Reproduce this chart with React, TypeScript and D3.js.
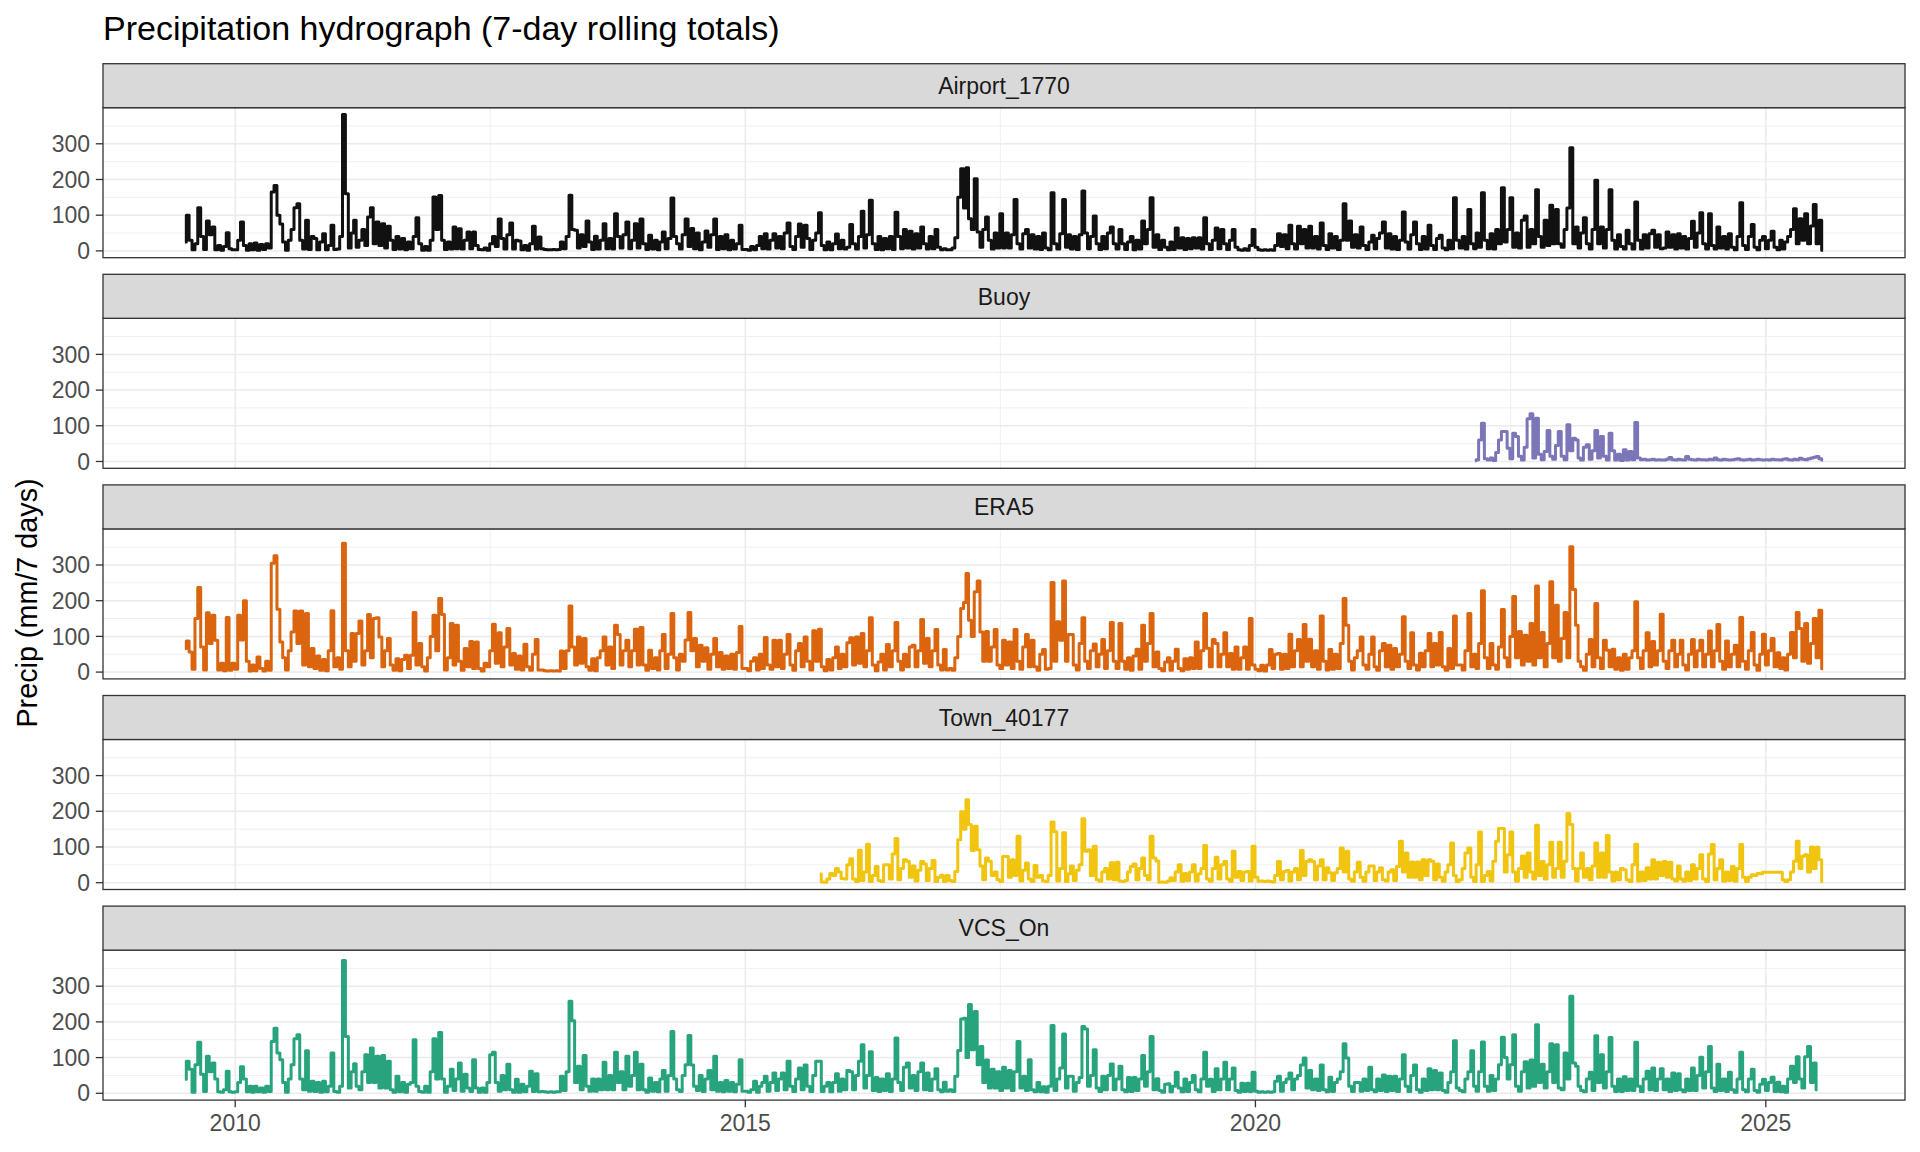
import React from 'react';
import * as d3 from 'd3';

const FONT = '"Liberation Sans", Arial, Helvetica, sans-serif';

// ---- Data: 7-day rolling precipitation totals (mm), sampled per dekad (day 5, 15, 25 of each month) ----
const stationNames = ['Airport_1770', 'Buoy', 'ERA5', 'Town_40177', 'VCS_On'];
const stationColors = ['#111111', '#7a76b8', '#da650e', '#f1c40f', '#27a47d'];
// [first year, first dekad index (0..35)]
const stationStarts: [number, number][] = [[2009, 18], [2022, 5], [2009, 18], [2015, 26], [2009, 18]];

const airport: number[][] = [
  [25,100,30,3,20,121,40,4,84,45,67,3,15,2,12,51,6,3],
  [3,30,81,15,2,20,3,22,2,18,4,20,8,165,183,100,75,25,2,30,60,121,132,30,5,86,4,40,35,3,25,48,3,15,72,4],
  [5,40,382,160,8,50,86,10,30,60,15,95,121,20,81,15,76,8,69,30,4,40,5,35,3,25,6,40,93,20,2,12,2,30,151,60],
  [155,30,4,25,5,67,6,62,5,30,53,6,53,15,4,3,8,2,20,40,12,89,35,5,45,78,5,30,28,3,15,2,20,69,5,39],
  [6,4,3,3,4,3,4,25,6,40,156,60,58,8,45,12,84,25,4,41,5,30,76,6,35,5,104,40,8,45,81,6,30,76,8,89],
  [20,4,44,5,30,3,25,53,6,35,148,40,20,5,45,89,12,63,6,50,3,25,56,10,45,89,4,40,6,45,3,30,5,20,72,4],
  [4,2,12,3,15,40,6,48,5,30,48,8,40,6,50,78,12,4,40,75,10,72,35,4,30,50,107,15,3,25,3,20,47,6,30,5],
  [10,74,20,5,40,111,8,45,142,20,4,40,3,35,6,40,4,108,40,6,60,8,55,5,48,8,67,20,5,40,6,60,10,3,6,3],
  [3,8,37,150,230,120,233,90,60,202,53,10,60,95,30,5,50,8,104,8,50,8,45,144,20,5,48,60,8,45,5,40,4,50,8,3],
  [163,20,5,48,144,10,45,5,40,4,45,168,50,6,40,98,20,4,40,6,50,67,20,5,60,20,4,25,40,3,30,5,84,20,60,149],
  [10,45,4,30,10,3,25,4,64,8,37,4,35,6,37,8,37,5,93,20,4,30,64,6,60,20,4,30,60,10,3,2,6,2,15,60],
  [10,3,2,3,2,3,2,15,48,12,45,6,72,20,5,69,20,60,8,69,8,40,5,78,15,4,48,8,40,4,30,132,30,84,10,45],
  [8,67,15,4,25,44,6,35,50,81,8,48,5,40,4,30,109,25,5,45,81,20,4,40,5,72,15,4,35,44,8,3,30,6,149,30],
  [8,40,5,116,20,6,50,10,163,30,6,48,5,60,20,177,25,60,149,10,50,8,86,98,10,60,20,171,40,10,86,15,128,20,116,20],
  [10,60,120,289,20,67,8,50,93,20,5,60,198,20,67,8,60,171,30,5,45,12,5,58,20,5,137,30,5,45,8,48,58,10,45,6],
  [8,53,10,45,5,48,8,40,5,35,83,10,50,107,20,5,104,15,5,67,8,40,5,48,10,3,40,135,15,4,40,74,10,3,30,40],
  [6,30,55,10,3,30,5,25,40,60,118,20,90,30,104,20,70,130,20,86,2],
];

const buoy: number[][] = [
  [2,5,60,107,8,4,10,3,25,60,84,84,37,8,79,70,15,4,40,120,134,10,121,20,5,28,87,15,6,45,84],
  [15,5,103,30,65,60,10,4,40,47,6,30,87,10,70,15,4,79,30,4,20,3,33,4,28,5,109,10,5,6,4,5,6,4,5,4],
  [4,6,11,5,4,6,5,4,14,6,5,4,6,5,5,4,6,5,10,5,4,6,5,4,5,6,8,5,4,5,6,4,5,6,5,4],
  [5,4,6,5,5,4,6,8,5,4,6,5,9,6,5,8,10,12,14,8,4],
];

const era5: number[][] = [
  [66,87,56,8,150,237,70,6,166,80,159,89,6,25,4,153,5,25],
  [8,159,90,200,30,3,20,4,42,10,3,30,5,305,326,176,84,40,6,60,112,171,80,171,20,164,15,66,10,45,5,35,4,60,172,15],
  [40,8,361,60,15,108,30,108,143,20,60,161,40,150,152,98,15,60,94,20,5,37,4,35,47,10,47,167,20,80,15,3,40,100,159,60],
  [206,161,6,40,136,20,131,30,5,66,15,86,10,84,10,3,25,15,60,134,25,110,15,70,122,20,52,8,45,6,78,15,5,50,91,6],
  [6,4,3,4,3,4,3,59,10,60,185,70,20,98,25,94,15,5,37,4,40,60,98,20,70,10,131,105,20,60,89,15,60,120,20,125],
  [20,5,61,10,40,6,60,105,10,50,164,40,6,50,30,90,167,60,94,15,75,30,68,8,50,94,15,55,8,45,10,50,8,55,128,10],
  [10,4,30,40,6,50,10,97,20,8,89,15,89,10,50,105,20,5,60,80,15,98,30,6,116,30,120,15,4,35,6,40,70,10,50,15],
  [82,96,20,98,25,108,15,60,152,20,4,28,50,6,77,15,60,139,30,6,50,15,70,75,15,60,147,25,94,15,60,119,20,6,63,6],
  [10,5,40,100,178,195,276,145,100,225,255,112,30,114,30,70,119,20,10,89,20,84,10,119,30,8,70,105,15,89,15,5,50,63,8,10],
  [251,30,141,89,255,30,105,105,20,6,80,152,30,10,60,79,15,50,91,10,60,139,30,10,136,30,8,40,5,45,64,8,131,30,80,164],
  [15,56,10,4,28,40,5,30,64,10,4,37,8,40,10,84,10,60,164,67,15,91,80,15,50,110,15,52,8,70,8,40,70,8,150,20],
  [8,4,19,3,20,63,10,50,52,8,50,10,106,15,60,91,15,133,30,92,15,60,8,157,30,6,63,8,50,10,80,206,131,30,6,40],
  [60,98,20,8,50,98,15,5,60,80,15,75,8,66,15,50,155,30,10,110,20,6,53,15,60,108,15,80,20,111,15,5,66,10,157,20],
  [20,6,60,164,15,50,10,80,228,40,10,80,20,8,70,175,40,15,100,212,40,114,20,103,30,136,20,241,40,111,15,80,253,40,187,30],
  [94,167,40,351,231,131,30,15,5,50,91,15,192,40,10,89,61,15,64,8,40,5,50,8,40,60,197,40,10,60,110,15,86,20,60,162],
  [30,10,60,89,15,50,89,20,6,50,91,15,60,89,15,50,115,15,60,133,30,8,87,15,50,75,15,153,30,8,60,111,20,5,50,106],
  [20,60,94,15,54,10,40,6,50,111,40,167,122,30,136,25,80,150,40,173,9],
];

const town: number[][] = [
  [24,2,1,10,26,20,40,30,12,10],
  [50,67,10,3,91,6,30,108,3,20,45,6,3,50,50,10,80,124,8,40,64,60,15,47,5,35,59,52,6,40,62,3,15,21,3,20],
  [6,3,31,120,199,150,232,163,90,158,92,47,8,69,60,20,30,8,3,73,73,15,64,20,130,5,35,55,10,3,48,15,20,5,3,20],
  [170,143,5,40,140,3,25,47,6,35,50,179,88,92,20,102,8,4,30,40,10,56,8,57,5,3,6,30,45,52,8,40,69,20,8,130],
  [69,61,1,2,1,5,14,6,30,50,4,26,6,30,50,5,25,40,104,10,4,40,71,10,50,59,10,4,88,15,31,6,30,31,5,102],
  [15,4,5,3,5,3,2,20,59,8,31,34,5,30,40,8,90,20,59,64,59,8,47,64,8,42,28,6,28,40,97,30,88,10,4,30],
  [57,15,4,30,47,47,6,30,42,8,5,30,36,6,45,116,30,83,15,58,15,58,8,64,20,64,60,8,52,15,4,30,50,111,20,3],
  [8,40,83,97,15,3,50,142,3,20,31,5,60,116,152,152,30,78,142,30,4,40,75,15,83,30,10,161,20,59,10,50,113,15,40,113],
  [15,60,194,163,40,5,40,83,15,40,8,47,111,15,83,15,132,30,5,30,8,40,36,8,3,50,108,5,30,6,42,10,64,10,57,20],
  [59,15,57,10,5,47,10,4,30,6,50,10,40,78,10,3,80,107,8,40,64,4,30,6,45,4,40,107,15,3,15,22,20,26,25,29],
  [29,29,29,29,29,29,8,3,8,30,60,116,40,74,78,30,100,40,99,64,3],
];

const vcs: number[][] = [
  [39,90,67,3,80,143,53,5,104,60,85,40,4,3,10,62,4,3],
  [4,30,74,40,4,20,3,20,4,15,3,20,5,145,182,113,94,30,3,40,80,153,164,40,10,119,6,34,5,30,3,34,4,20,113,5],
  [3,20,372,159,15,60,83,20,10,60,108,30,127,30,104,15,106,15,90,10,3,48,4,30,3,25,30,150,20,5,3,20,3,60,153,40],
  [170,40,3,20,67,8,40,85,6,53,15,5,94,15,3,15,3,30,108,115,30,6,50,10,81,10,3,39,3,25,4,20,62,5,55,4],
  [5,4,3,4,3,4,4,48,8,60,258,203,30,76,10,106,20,6,40,6,40,10,87,10,50,10,115,30,60,10,104,20,50,115,10,81],
  [10,3,43,6,30,4,40,64,6,50,173,40,10,5,50,80,162,79,20,8,50,5,40,64,10,104,6,30,4,36,6,30,4,25,94,6],
  [6,3,10,34,3,20,30,48,6,30,57,8,40,57,10,90,20,5,40,71,10,79,20,5,50,90,90,5,20,30,4,30,55,6,40,10],
  [64,60,10,50,90,136,15,50,116,8,44,5,40,8,55,5,40,155,30,8,73,85,15,50,8,60,85,10,57,8,40,69,10,4,31,6],
  [10,5,48,120,208,210,100,249,122,229,80,131,30,93,15,67,15,60,8,73,15,64,8,60,145,15,48,8,94,10,4,30,4,18,3,20],
  [190,8,40,71,166,15,48,48,6,30,44,187,180,20,50,122,15,5,48,10,50,82,10,40,76,10,4,44,5,44,8,40,106,20,60,159],
  [10,41,8,3,25,27,4,20,59,15,4,40,5,30,50,10,4,40,115,20,39,5,69,10,40,87,10,40,71,8,3,28,5,28,5,59],
  [6,3,4,3,4,3,4,34,48,6,30,40,57,10,40,50,79,99,15,64,10,40,8,79,10,4,45,5,30,40,60,139,99,20,5,30],
  [30,6,40,8,73,10,4,40,8,51,5,48,8,48,5,40,108,20,5,50,79,10,3,40,8,69,10,64,10,57,8,3,30,60,147,15],
  [8,4,40,60,119,20,6,60,144,20,6,50,8,40,80,157,100,40,80,164,20,6,60,88,15,93,20,192,30,81,15,60,139,30,136,15],
  [10,113,40,272,85,76,20,8,4,40,59,8,161,30,108,15,60,156,20,5,40,5,46,8,40,8,143,20,5,40,62,10,71,8,40,69],
  [10,40,5,57,8,55,10,4,40,8,71,8,50,101,15,60,131,15,5,81,8,40,5,59,10,3,40,115,10,4,40,67,8,3,25,39],
  [8,30,45,5,31,4,20,3,40,76,30,102,40,15,102,131,30,85,10],
];

const stationValues = [airport, buoy, era5, town, vcs];
const yTicks = [0, 100, 200, 300];
const yMinor = [50, 150, 250, 350];
const xTickYears = [2010, 2015, 2020, 2025];

const DEKAD_DAYS = [5, 15, 25];
function dekadDate(start: [number, number], i: number): Date {
  const t = start[1] + i;
  const y = start[0] + Math.floor(t / 36);
  const k = t % 36;
  return new Date(Date.UTC(y, Math.floor(k / 3), DEKAD_DAYS[k % 3]));
}

// ---- Layout ----
const PLOT_L = 103;
const PLOT_R = 1905;
const STRIP_TOP0 = 63.7;
const PITCH = 210.6;
const STRIP_H = 44;
const PANEL_H = 150;

export default function App() {
  const series = stationNames.map((name, si) => {
    const flat = stationValues[si].flat();
    return {
      name,
      color: stationColors[si],
      points: flat.map((v, i) => ({ date: dekadDate(stationStarts[si], i), v })),
    };
  });

  const allDates = series.flatMap((s) => s.points.map((p) => +p.date));
  const dMin = d3.min(allDates) as number;
  const dMax = d3.max(allDates) as number;
  const dSpan = dMax - dMin;
  const x = d3
    .scaleUtc()
    .domain([new Date(dMin - 0.05 * dSpan), new Date(dMax + 0.05 * dSpan)])
    .range([PLOT_L, PLOT_R]);

  const vMax = d3.max(series, (s) => d3.max(s.points, (p) => p.v)) as number;
  const yDom: [number, number] = [-0.05 * vMax, vMax * 1.05];

  const xMajor = xTickYears.map((yr) => new Date(Date.UTC(yr, 0, 1)));
  const xMinor = xMajor.slice(0, -1).map((d, i) => new Date((+d + +xMajor[i + 1]) / 2));

  const lastPanelBottom = STRIP_TOP0 + 4 * PITCH + STRIP_H + PANEL_H;

  return (
    <div style={{ position: 'absolute', left: 0, top: 0 }}>
      <svg width={1920} height={1152} style={{ display: 'block', background: '#ffffff' }} fontFamily={FONT}>
        <rect x={0} y={0} width={1920} height={1152} fill="#ffffff" />
        <text x={PLOT_L} y={40} fontSize={34} fill="#000000">
          Precipitation hydrograph (7-day rolling totals)
        </text>
        <text
          transform={`translate(37.3, 603) rotate(-90)`}
          textAnchor="middle"
          fontSize={28.75}
          fill="#000000"
        >
          Precip (mm/7 days)
        </text>

        {series.map((s, i) => {
          const stripTop = STRIP_TOP0 + i * PITCH;
          const pTop = stripTop + STRIP_H;
          const pBot = pTop + PANEL_H;
          const y = d3.scaleLinear().domain(yDom).range([pBot, pTop]);
          const line = d3
            .line<{ date: Date; v: number }>()
            .curve(d3.curveStep)
            .x((p) => x(p.date))
            .y((p) => y(p.v));
          const clipId = `clip-${i}`;
          return (
            <g key={s.name}>
              <defs>
                <clipPath id={clipId}>
                  <rect x={PLOT_L} y={pTop} width={PLOT_R - PLOT_L} height={PANEL_H} />
                </clipPath>
              </defs>
              <rect x={PLOT_L} y={pTop} width={PLOT_R - PLOT_L} height={PANEL_H} fill="#ffffff" />
              <g clipPath={`url(#${clipId})`}>
                {yMinor.map((t) => (
                  <line key={'ym' + t} x1={PLOT_L} x2={PLOT_R} y1={y(t)} y2={y(t)} stroke="#EBEBEB" strokeWidth={0.75} />
                ))}
                {xMinor.map((d, k) => (
                  <line key={'xm' + k} x1={x(d)} x2={x(d)} y1={pTop} y2={pBot} stroke="#EBEBEB" strokeWidth={0.75} />
                ))}
                {yTicks.map((t) => (
                  <line key={'yM' + t} x1={PLOT_L} x2={PLOT_R} y1={y(t)} y2={y(t)} stroke="#EBEBEB" strokeWidth={1.5} />
                ))}
                {xMajor.map((d, k) => (
                  <line key={'xM' + k} x1={x(d)} x2={x(d)} y1={pTop} y2={pBot} stroke="#EBEBEB" strokeWidth={1.5} />
                ))}
                <path
                  d={line(s.points) || ''}
                  fill="none"
                  stroke={s.color}
                  strokeWidth={3}
                  strokeLinejoin="round"
                  strokeLinecap="butt"
                />
              </g>
              <rect
                x={PLOT_L}
                y={pTop}
                width={PLOT_R - PLOT_L}
                height={PANEL_H}
                fill="none"
                stroke="#333333"
                strokeWidth={1.3}
              />
              <rect
                x={PLOT_L}
                y={stripTop}
                width={PLOT_R - PLOT_L}
                height={STRIP_H}
                fill="#D9D9D9"
                stroke="#333333"
                strokeWidth={1.3}
              />
              <text
                x={(PLOT_L + PLOT_R) / 2}
                y={stripTop + STRIP_H / 2 + 8.2}
                textAnchor="middle"
                fontSize={23}
                fill="#1A1A1A"
              >
                {s.name}
              </text>
              {yTicks.map((t) => (
                <g key={'yt' + t}>
                  <line x1={PLOT_L - 7.2} x2={PLOT_L} y1={y(t)} y2={y(t)} stroke="#333333" strokeWidth={1.3} />
                  <text x={PLOT_L - 13} y={y(t) + 8.2} textAnchor="end" fontSize={23} fill="#4D4D4D">
                    {t}
                  </text>
                </g>
              ))}
            </g>
          );
        })}

        {xMajor.map((d, k) => (
          <g key={'xt' + k}>
            <line
              x1={x(d)}
              x2={x(d)}
              y1={lastPanelBottom}
              y2={lastPanelBottom + 7.2}
              stroke="#333333"
              strokeWidth={1.3}
            />
            <text x={x(d)} y={lastPanelBottom + 31} textAnchor="middle" fontSize={23} fill="#4D4D4D">
              {d3.utcFormat('%Y')(d)}
            </text>
          </g>
        ))}
      </svg>
    </div>
  );
}
